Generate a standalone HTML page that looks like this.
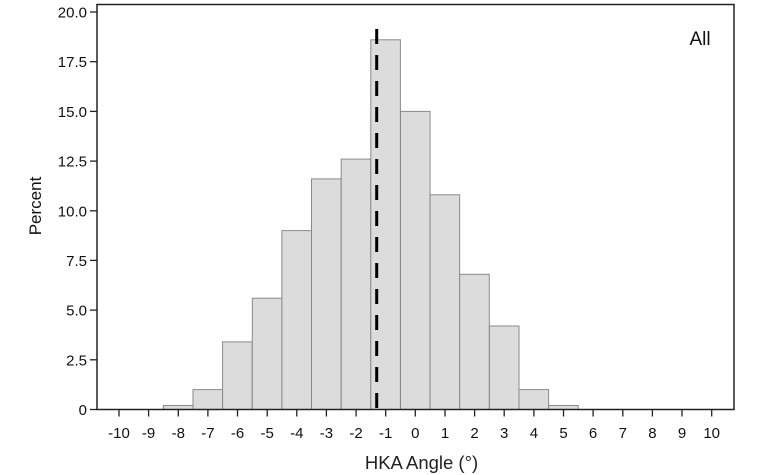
<!DOCTYPE html>
<html><head><meta charset="utf-8"><style>
html,body{margin:0;padding:0;background:#fff;}
svg{display:block;font-family:"Liberation Sans",Arial,sans-serif;}
</style></head><body>
<svg width="760" height="475" viewBox="0 0 760 475" xmlns="http://www.w3.org/2000/svg">
<g fill="#dcdcdc" stroke="#8a8a8a" stroke-width="1">
<rect x="163.4" y="405.5" width="29.6" height="4"/>
<rect x="193.0" y="389.6" width="29.6" height="19.9"/>
<rect x="222.6" y="341.9" width="29.6" height="67.6"/>
<rect x="252.3" y="298.2" width="29.6" height="111.3"/>
<rect x="281.9" y="230.6" width="29.6" height="178.9"/>
<rect x="311.5" y="178.9" width="29.6" height="230.6"/>
<rect x="341.2" y="159.1" width="29.6" height="250.4"/>
<rect x="370.8" y="39.8" width="29.6" height="369.7"/>
<rect x="400.5" y="111.4" width="29.6" height="298.1"/>
<rect x="430.1" y="194.8" width="29.6" height="214.7"/>
<rect x="459.7" y="274.3" width="29.6" height="135.2"/>
<rect x="489.4" y="326.0" width="29.6" height="83.5"/>
<rect x="519.0" y="389.6" width="29.6" height="19.9"/>
<rect x="548.6" y="405.5" width="29.6" height="4"/>
</g>
<line x1="376.7" y1="20" x2="376.7" y2="409" stroke="#000" stroke-width="3" stroke-dasharray="15 11" stroke-dashoffset="-9"/>
<path d="M97 4.5 H734 V409.5 H97 Z" fill="none" stroke="#222" stroke-width="1.5"/>
<g stroke="#222" stroke-width="1.3">
<line x1="90" y1="12" x2="97" y2="12"/><line x1="90" y1="61.7" x2="97" y2="61.7"/>
<line x1="90" y1="111.4" x2="97" y2="111.4"/><line x1="90" y1="161.1" x2="97" y2="161.1"/>
<line x1="90" y1="210.8" x2="97" y2="210.8"/><line x1="90" y1="260.4" x2="97" y2="260.4"/>
<line x1="90" y1="310.1" x2="97" y2="310.1"/><line x1="90" y1="359.8" x2="97" y2="359.8"/>
<line x1="90" y1="409.5" x2="97" y2="409.5"/>
</g>
<g font-size="15" text-anchor="end" fill="#111">
<text x="87" y="17.5">20.0</text><text x="87" y="67.2">17.5</text><text x="87" y="116.9">15.0</text>
<text x="87" y="166.6">12.5</text><text x="87" y="216.3">10.0</text><text x="87" y="265.9">7.5</text>
<text x="87" y="315.6">5.0</text><text x="87" y="365.3">2.5</text><text x="87" y="415">0</text>
</g>
<g font-size="15" text-anchor="middle" fill="#111">
<text x="119" y="438">-10</text><text x="148.6" y="438">-9</text><text x="178.3" y="438">-8</text>
<text x="207.9" y="438">-7</text><text x="237.5" y="438">-6</text><text x="267.2" y="438">-5</text>
<text x="296.8" y="438">-4</text><text x="326.4" y="438">-3</text><text x="356.1" y="438">-2</text>
<text x="385.7" y="438">-1</text><text x="415.3" y="438">0</text><text x="445" y="438">1</text>
<text x="474.6" y="438">2</text><text x="504.2" y="438">3</text><text x="533.9" y="438">4</text>
<text x="563.5" y="438">5</text><text x="593.1" y="438">6</text><text x="622.8" y="438">7</text>
<text x="652.4" y="438">8</text><text x="682" y="438">9</text><text x="711.7" y="438">10</text>
</g>
<g stroke="#222" stroke-width="1.3">
<path d="M119 409.5v7M148.6 409.5v7M178.3 409.5v7M207.9 409.5v7M237.5 409.5v7M267.2 409.5v7M296.8 409.5v7M326.4 409.5v7M356.1 409.5v7M385.7 409.5v7M415.3 409.5v7M445 409.5v7M474.6 409.5v7M504.2 409.5v7M533.9 409.5v7M563.5 409.5v7M593.1 409.5v7M622.8 409.5v7M652.4 409.5v7M682 409.5v7M711.7 409.5v7"/>
</g>
<text x="421.5" y="469" font-size="18.5" text-anchor="middle" fill="#222">HKA Angle (°)</text>
<text transform="translate(41,206) rotate(-90)" font-size="17" text-anchor="middle" fill="#111">Percent</text>
<text x="700" y="45" font-size="19" text-anchor="middle" fill="#111">All</text>
</svg>
</body></html>
